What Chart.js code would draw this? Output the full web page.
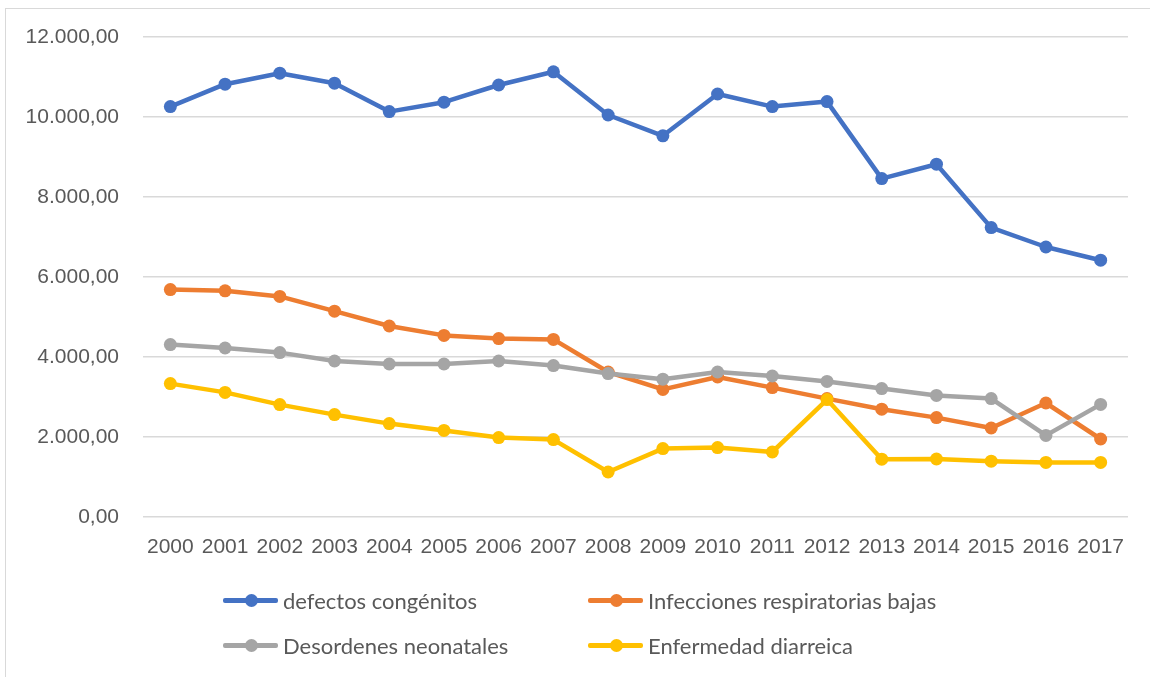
<!DOCTYPE html>
<html lang="es">
<head>
<meta charset="utf-8">
<title>Tasas por causa, 2000-2017</title>
<script src="https://cdn.jsdelivr.net/npm/chart.js@4/dist/chart.umd.min.js"></script>
<style>
  html, body { margin: 0; padding: 0; background: #ffffff; }
  body { width: 1150px; height: 677px; position: relative; overflow: hidden; }
  #frame { position: absolute; left: 5px; top: 8px; width: 1200px; height: 700px;
           border-left: 1px solid #d9d9d9; border-top: 1px solid #d9d9d9; }
  #wrap { position: absolute; left: 0; top: 0; width: 1150px; height: 677px; }
  .leg { position: absolute; height: 26px; display: flex; align-items: center;
         font-family: "Lato", "Liberation Sans", sans-serif;
         font-size: 22px; color: #595959; white-space: nowrap; }
  .sw { position: relative; width: 55px; height: 26px; margin-right: 5px; flex: none; }
  .sw i { position: absolute; left: 0; top: 11px; width: 55px; height: 4.5px; border-radius: 2px; }
  .sw b { position: absolute; left: 21.5px; top: 6.5px; width: 13px; height: 13px; border-radius: 50%; }
</style>
</head>
<body>
<div id="frame"></div>
<div id="wrap"><canvas id="c" width="1150" height="677"></canvas></div>
<div id="legend"></div>
<script>
// Years on the horizontal axis
const years = ['2000','2001','2002','2003','2004','2005','2006','2007','2008',
               '2009','2010','2011','2012','2013','2014','2015','2016','2017'];

// One array per cause
const defectosCongenitos = [10260, 10820, 11095, 10845, 10135, 10370, 10800, 11130, 10050,
                            9530, 10575, 10260, 10385, 8460, 8820, 7235, 6750, 6420];
const infeccionesRespiratorias = [5685, 5655, 5515, 5145, 4775, 4540, 4460, 4440, 3625,
                                  3190, 3500, 3235, 2960, 2695, 2485, 2225, 2850, 1950];
const desordenesNeonatales = [4310, 4225, 4110, 3900, 3825, 3825, 3900, 3785, 3585,
                              3445, 3625, 3525, 3390, 3210, 3040, 2960, 2040, 2815];
const enfermedadDiarreica = [3335, 3115, 2810, 2560, 2335, 2165, 1985, 1935, 1125,
                             1710, 1735, 1625, 2935, 1445, 1450, 1395, 1365, 1365];

// Axis ticks
const yTicks = [0, 2000, 4000, 6000, 8000, 10000, 12000];

const seriesNames = ['defectos congénitos', 'Infecciones respiratorias bajas',
                     'Desordenes neonatales', 'Enfermedad diarreica'];
const seriesColors = ['#4472C4', '#ED7D31', '#A5A5A5', '#FFC000'];
const seriesData = [defectosCongenitos, infeccionesRespiratorias, desordenesNeonatales, enfermedadDiarreica];

// "12.000,00" style number formatting
function fmt(v) {
  const s = Math.round(v).toString().replace(/\B(?=(\d{3})+(?!\d))/g, '.');
  return s + ',00';
}

const datasets = seriesData.map((d, i) => ({
  label: seriesNames[i],
  data: d,
  borderColor: seriesColors[i],
  backgroundColor: seriesColors[i],
  pointBackgroundColor: seriesColors[i],
  pointBorderWidth: 0,
  pointRadius: 6.5,
  borderWidth: 4.5,
  borderJoinStyle: 'round',
  borderCapStyle: 'round',
  tension: 0,
  fill: false,
  order: 4 - i   // later series sit on top
}));

const tickFont = { family: '"Liberation Sans", Arial, sans-serif', size: 21 };

new Chart(document.getElementById('c'), {
  type: 'line',
  data: { labels: years, datasets },
  options: {
    responsive: false,
    animation: false,
    devicePixelRatio: 1,
    layout: { padding: { top: 37, right: 22, bottom: 120, left: 0 } },
    plugins: { legend: { display: false }, tooltip: { enabled: false } },
    scales: {
      x: {
        type: 'category',
        offset: true,
        grid: { display: false, drawTicks: false },
        border: { display: false },
        ticks: { color: '#595959', font: tickFont, padding: 18, maxRotation: 0, autoSkip: false },
        afterFit(scale) { scale.height = 40; }
      },
      y: {
        min: 0, max: 12000,
        afterBuildTicks(scale) { scale.ticks = yTicks.map(v => ({ value: v })); },
        grid: { color: '#d9d9d9', lineWidth: 1.5, drawTicks: false },
        border: { display: false },
        ticks: { color: '#595959', font: tickFont, padding: 24, callback: v => fmt(v) },
        afterFit(scale) { scale.width = 143; }
      }
    }
  }
});

// Legend: two rows by two columns
const legendPos = [
  { x: 223, y: 587 }, { x: 588, y: 587 },
  { x: 223, y: 632 }, { x: 588, y: 632 }
];
const legend = document.getElementById('legend');
seriesNames.forEach((name, i) => {
  const el = document.createElement('div');
  el.className = 'leg';
  el.style.left = legendPos[i].x + 'px';
  el.style.top = legendPos[i].y + 'px';
  el.innerHTML = '<span class="sw"><i style="background:' + seriesColors[i] + '"></i><b style="background:' +
                 seriesColors[i] + '"></b></span><span>' + name + '</span>';
  legend.appendChild(el);
});
</script>
</body>
</html>
